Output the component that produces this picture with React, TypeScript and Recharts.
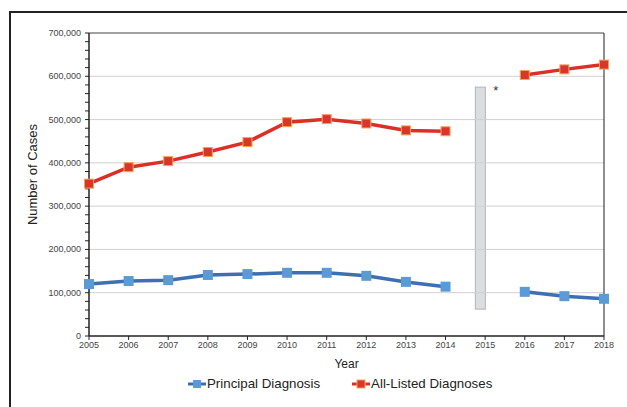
import React from "react";
import {
  ComposedChart,
  Line,
  Bar,
  XAxis,
  YAxis,
  ReferenceLine,
} from "recharts";

const years = ["2005", "2006", "2007", "2008", "2009", "2010", "2011", "2012", "2013", "2014", "2015", "2016", "2017", "2018"];
const principal = [120000, 127000, 129000, 141000, 143000, 146000, 146000, 139000, 125000, 114000, null, 102000, 92000, 86000];
const allListed = [352000, 390000, 404000, 425000, 448000, 494000, 501000, 491000, 475000, 473000, null, 603000, 616000, 627000];
// floating grey bar marking the coding break in 2015
const breakLow = 62000;
const breakHigh = 575000;
const breakYear = "2015";

// 0 .. 700,000 every 20,000 (labels only on the 100,000s)
const yMinorTicks = Array.from({ length: 36 }, (_, i) => i * 20000);
const yMajorTicks = [0, 100000, 200000, 300000, 400000, 500000, 600000, 700000];

const FONT = "Liberation Sans";
const RED = "#dc2f27";
const BLUE = "#3d6fb3";

const data = years.map((y, i) => ({
  year: y,
  principal: principal[i],
  allListed: allListed[i],
  gap: y === breakYear ? [breakLow, breakHigh] : null,
}));

function BlueDot({ cx, cy }: any) {
  if (cx == null || cy == null) return null;
  return <rect x={cx - 5} y={cy - 5} width={10} height={10} fill="#5b9bd5" />;
}

function RedDot({ cx, cy }: any) {
  if (cx == null || cy == null) return null;
  return <rect x={cx - 4.5} y={cy - 4.5} width={9} height={9} fill="#d9362b" stroke="#f4a15a" strokeWidth={1} />;
}

function GapBar({ x, y, width, height }: any) {
  if (!height) return null;
  return (
    <g>
      <rect x={x - width / 2} y={y} width={width} height={height} fill="#dcdde0" stroke="#b5b5b5" strokeWidth={1} />
      <text x={x + width + 3} y={y + 8} fontSize={13} fontFamily={FONT} fill="#333">*</text>
    </g>
  );
}

function YTick({ x, y, payload }: any) {
  if (payload.value % 100000 !== 0) return null;
  return (
    <text x={x} y={y} dy={3} textAnchor="end" fontSize={9} fontFamily={FONT} fill="#444">
      {payload.value.toLocaleString("en-US")}
    </text>
  );
}

function YLabel({ viewBox }: any) {
  const cx = 37;
  const cy = viewBox.y + viewBox.height / 2 - 10;
  return (
    <text x={cx} y={cy} transform={`rotate(-90, ${cx}, ${cy})`} textAnchor="middle" fontSize={13} fontFamily={FONT} fill="#222">
      Number of Cases
    </text>
  );
}

function LegendItem({ color, dot, label }: { color: string; dot: React.ReactNode; label: string }) {
  return (
    <div style={{ display: "flex", alignItems: "center" }}>
      <svg width={18} height={12}>
        <line x1={0} y1={6} x2={18} y2={6} stroke={color} strokeWidth={3} />
        {dot}
      </svg>
      <span style={{ fontSize: 13.3, color: "#222", marginLeft: 1 }}>{label}</span>
    </div>
  );
}

export default function App() {
  return (
    <div style={{ position: "absolute", left: 0, top: 0, width: 627, height: 407, overflow: "hidden", background: "#fff", fontFamily: FONT }}>
      <div style={{ position: "absolute", left: 9, top: 11, width: 700, height: 500, border: "2px solid #222" }} />
      <ComposedChart width={627} height={407} data={data} margin={{ top: 33, right: 23, left: 9, bottom: 46 }}>
        {yMajorTicks.slice(1, -1).map((v) => (
          <ReferenceLine key={v} y={v} stroke="#d0d0d0" strokeWidth={1} />
        ))}
        <ReferenceLine y={700000} stroke="#444" strokeWidth={1.2} />
        <ReferenceLine x="2018" stroke="#444" strokeWidth={1.2} />
        <XAxis
          dataKey="year"
          scale="point"
          padding={{ left: 0, right: 0 }}
          interval={0}
          height={25}
          tick={{ fontSize: 9, fill: "#444", fontFamily: FONT }}
          tickSize={4}
          tickMargin={2}
          axisLine={{ stroke: "#222", strokeWidth: 1.5 }}
          tickLine={{ stroke: "#222" }}
          label={{ value: "Year", position: "bottom", offset: -2, fontSize: 12, fill: "#222", fontFamily: FONT }}
        />
        <YAxis
          width={80}
          domain={[0, 700000]}
          ticks={yMinorTicks}
          interval={0}
          tick={<YTick />}
          tickSize={4}
          tickMargin={4}
          axisLine={{ stroke: "#222", strokeWidth: 1.5 }}
          tickLine={{ stroke: "#222" }}
          label={<YLabel />}
        />
        <Bar dataKey="gap" barSize={10} shape={<GapBar />} isAnimationActive={false} />
        <Line
          dataKey="principal"
          stroke={BLUE}
          strokeWidth={3.5}
          dot={<BlueDot />}
          activeDot={false}
          connectNulls={false}
          isAnimationActive={false}
        />
        <Line
          dataKey="allListed"
          stroke={RED}
          strokeWidth={3.5}
          dot={<RedDot />}
          activeDot={false}
          connectNulls={false}
          isAnimationActive={false}
        />
      </ComposedChart>
      <div style={{ position: "absolute", left: 188, top: 376, display: "flex", gap: 32 }}>
        <LegendItem color={BLUE} label="Principal Diagnosis" dot={<rect x={5} y={2} width={8} height={8} fill="#5b9bd5" />} />
        <LegendItem color={RED} label="All-Listed Diagnoses" dot={<rect x={5} y={2} width={8} height={8} fill="#d9362b" stroke="#f4a15a" />} />
      </div>
    </div>
  );
}
